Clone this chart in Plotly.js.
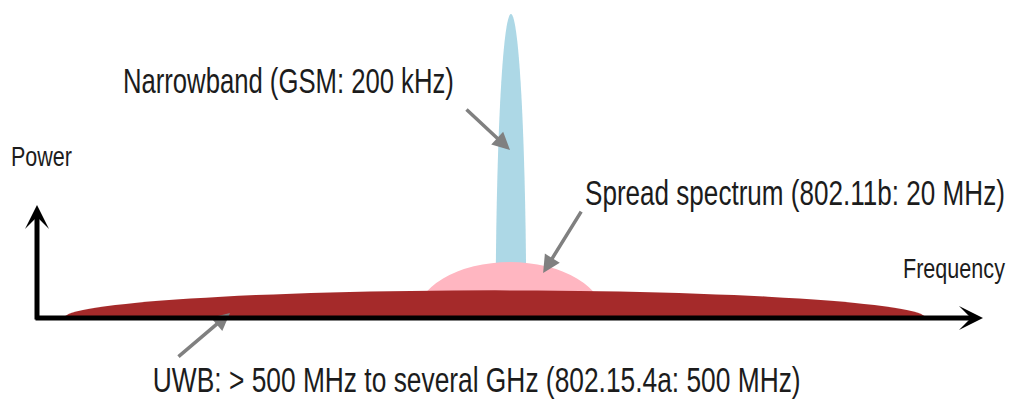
<!DOCTYPE html>
<html>
<head>
<meta charset="utf-8">
<script src="https://cdn.plot.ly/plotly-3.0.1.min.js"></script>
<style>html,body{margin:0;padding:0;background:#fff;}#chart{width:1013px;height:401px;}</style>
</head>
<body>
<div id="chart"></div>
<script>
// ---- data (schematic units: frequency 0..100, power 0..100) ----
const bandNames = ['Narrowband', 'Spread spectrum', 'UWB'];
const bandCenters = [50.1, 50.0, 48.4];
const bandHalfWidths = [1.62, 10.0, 45.5];
const bandPeaks = [96.8, 17.8, 8.8];
const bandColors = ['#add8e6', '#ffb6c1', '#a52a2a'];
const labelTexts = [
  'Narrowband (GSM: 200 kHz)',
  'Spread spectrum (802.11b: 20 MHz)',
  'UWB: > 500 MHz to several GHz (802.15.4a: 500 MHz)'
];
const pointerFreq = [50.0, 53.5, 20.4];
const pointerPower = [53.5, 14.3, 1.6];
const axisLabels = ['Power', 'Frequency'];

// ---- layout geometry ----
const W = 1013, H = 401;
const M = {l: 37, r: 30, t: 4, b: 83};
const pw = W - M.l - M.r, ph = H - M.t - M.b;
const xr = [0, 100], yr = [0, 100];
const px2x = p => xr[0] + (p - M.l) / pw * (xr[1] - xr[0]);
const py2y = p => yr[0] + (H - M.b - p) / ph * (yr[1] - yr[0]);
const px2p = p => (p - M.l) / pw;
const py2p = p => (H - M.b - p) / ph;

const FONT = 'Liberation Sans, Arial, sans-serif';
const TXT = '#1c1c1c';

// narrow sans look: choose a size whose natural width fits, then stretch vertically
const ctx = document.createElement('canvas').getContext('2d');
function fitSize(text, visualSize, targetWidth) {
  ctx.font = visualSize + 'px "Liberation Sans", Arial, sans-serif';
  const w = ctx.measureText(text).width;
  return Math.min(visualSize, visualSize * targetWidth / w);
}
const esc = s => s.replace(/&/g, '&amp;').replace(/</g, '&lt;').replace(/>/g, '&gt;');

const shapes = bandNames.map((n, i) => ({
  type: 'circle', xref: 'x', yref: 'y',
  x0: bandCenters[i] - bandHalfWidths[i], x1: bandCenters[i] + bandHalfWidths[i],
  y0: -bandPeaks[i], y1: bandPeaks[i],
  fillcolor: bandColors[i], line: {width: 0}, layer: 'above'
}));

const tails = [[-45, -42], [39, -63], [-53, 45]];
const annotations = [];
const stretch = {};
// pointer arrows
bandNames.forEach((n, i) => {
  annotations.push({
    x: pointerFreq[i], y: pointerPower[i], xref: 'x', yref: 'y',
    ax: tails[i][0], ay: tails[i][1], text: '', showarrow: true,
    arrowhead: 2, arrowsize: 1, arrowwidth: 3.5, arrowcolor: '#808080'
  });
});
// label texts: [centre x px, centre y px, target width px]
const labelPos = [[288, 81, 331], [795, 193, 420], [476, 380, 648]];
labelTexts.forEach((t, i) => {
  const s = fitSize(t, 35, labelPos[i][2]);
  stretch[annotations.length] = 35 / s;
  annotations.push({
    x: px2p(labelPos[i][0]), y: py2p(labelPos[i][1]), xref: 'paper', yref: 'paper',
    text: esc(t), showarrow: false, xanchor: 'center', yanchor: 'middle',
    font: {family: FONT, size: s, color: TXT}
  });
});
// axis arrows
annotations.push({
  x: px2x(37), y: py2y(205), xref: 'x', yref: 'y', ax: 0, ay: 116,
  text: '', showarrow: true, arrowhead: 3, arrowsize: 0.8, arrowwidth: 5, arrowcolor: '#000'
});
annotations.push({
  x: px2x(983), y: py2y(318), xref: 'x', yref: 'y', ax: -949, ay: 0,
  text: '', showarrow: true, arrowhead: 3, arrowsize: 0.8, arrowwidth: 5, arrowcolor: '#000'
});
// axis titles
const axisTitlePos = [[41.5, 157, 61], [954, 268, 102]];
axisLabels.forEach((t, i) => {
  const s = fitSize(t, 27, axisTitlePos[i][2]);
  stretch[annotations.length] = 27 / s;
  annotations.push({
    x: px2p(axisTitlePos[i][0]), y: py2p(axisTitlePos[i][1]), xref: 'paper', yref: 'paper',
    text: esc(t), showarrow: false, xanchor: 'center', yanchor: 'middle',
    font: {family: FONT, size: s, color: TXT}
  });
});

const axisStyle = {showgrid: false, zeroline: false, showticklabels: false, showline: false, ticks: '', fixedrange: true};
Plotly.newPlot('chart', [{x: [], y: [], type: 'scatter', hoverinfo: 'skip', showlegend: false}], {
  width: W, height: H, margin: M, paper_bgcolor: '#fff', plot_bgcolor: '#fff',
  showlegend: false,
  xaxis: Object.assign({range: xr}, axisStyle),
  yaxis: Object.assign({range: yr}, axisStyle),
  shapes: shapes, annotations: annotations
}, {displayModeBar: false, staticPlot: true}).then(gd => {
  Object.keys(stretch).forEach(idx => {
    const t = gd.querySelector('.annotation[data-index="' + idx + '"] text.annotation-text');
    if (t) {
      const bb = t.getBBox();
      const cy = bb.y + bb.height / 2;
      const prev = t.getAttribute('transform') || '';
      t.setAttribute('transform', prev + ' translate(0,' + cy + ') scale(1,' + stretch[idx] + ') translate(0,' + (-cy) + ')');
    }
  });
});
</script>
</body>
</html>
